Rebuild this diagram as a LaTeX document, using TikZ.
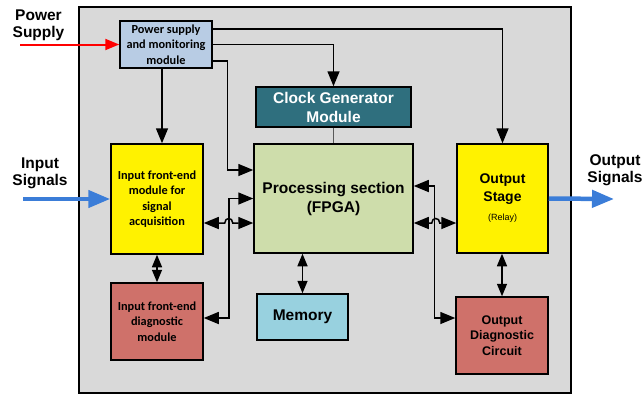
\documentclass[tikz,border=0pt]{standalone}
\usepackage{fontspec}
\setmainfont{Liberation Sans}
\newfontfamily\calfont{Carlito}
\usetikzlibrary{arrows.meta}
\definecolor{bggray}{HTML}{D9D9D9}
\definecolor{psblue}{HTML}{B8CCE4}
\definecolor{clkteal}{HTML}{2F6F7E}
\definecolor{procgreen}{HTML}{CEDDAB}
\definecolor{diagred}{HTML}{CF716A}
\definecolor{memblue}{HTML}{98D1DF}
\definecolor{sigblue}{HTML}{3B7DD8}
\tikzset{
  box/.style={draw=black, line width=1.5pt, inner sep=0pt, align=center},
  arr/.style={line width=1.5pt, -{Triangle[length=15pt,width=12pt]}},
  darr/.style={line width=1.5pt, {Triangle[length=15pt,width=12pt]}-{Triangle[length=15pt,width=12pt]}},
  sdarr/.style={line width=1.5pt, {Triangle[length=12.5pt,width=10pt]}-{Triangle[length=12.5pt,width=10pt]}},
  sigarr/.style={line width=4.5pt, draw=sigblue, -{Triangle[length=22pt,width=17pt]}},
  biglabel/.style={font=\fontsize{15.5}{17}\selectfont\bfseries, align=center, inner sep=0pt},
  bigtext/.style={font=\fontsize{15.5}{19}\selectfont\bfseries},
  caltext/.style={font=\calfont\fontsize{12.3}{15.5}\selectfont\bfseries},
}
\begin{document}
\begin{tikzpicture}[x=1pt,y=-1pt]
\useasboundingbox (0,0) rectangle (644,394);
\node[draw=black, fill=bggray, line width=1.8pt, minimum width=492pt, minimum height=386pt] (frame) at (325,200) {};

% boxes
\node[box, fill=psblue, minimum width=92pt, minimum height=47pt, caltext] (ps) at (166,44.5) {Power supply\\and monitoring\\module};
\node[box, fill=clkteal, text=white, minimum width=155pt, minimum height=40pt, bigtext] (clk) at (333.5,107) {Clock Generator\\Module};
\node[box, fill=procgreen, minimum width=159pt, minimum height=109pt, bigtext] (proc) at (333.5,198.5) {Processing section\\(FPGA)};
\node[box, fill=yellow, minimum width=92pt, minimum height=110pt, caltext] (infe) at (157,199) {Input front-end\\module for\\signal\\acquisition};
\node[box, fill=diagred, minimum width=92pt, minimum height=77pt, caltext] (indiag) at (157,321.5) {Input front-end\\diagnostic\\module};
\node[box, fill=memblue, minimum width=91pt, minimum height=46pt, font=\fontsize{15.5}{19}\selectfont\bfseries] (mem) at (302.5,317) {Memory};
\node[box, fill=yellow, minimum width=91pt, minimum height=109pt, font=\fontsize{14}{18}\selectfont\bfseries] (out) at (502.5,198.5) {Output\\Stage\\[1pt]{\fontsize{9}{10}\selectfont\mdseries (Relay)}};
\node[box, fill=diagred, minimum width=92pt, minimum height=77pt, font=\fontsize{12.5}{15.5}\selectfont\bfseries] (outdiag) at (502,335.5) {Output\\Diagnostic\\Circuit};

% outside labels
\node[biglabel] (pslabel) at (38.5,25) {Power\\Supply};
\node[biglabel] (inlabel) at (40,173) {Input\\Signals};
\node[biglabel] (outlabel) at (615,170) {Output\\Signals};
\coordinate (psin) at (20,44.5);
\coordinate (insrc) at (23,199);
\coordinate (outdst) at (614,199);

% signal arrows
\draw[line width=2pt, draw=red, -{Triangle[length=14pt,width=11pt]}, red] (psin) -- (ps.west);
\draw[sigarr] (insrc) -- (infe.west);
\draw[sigarr] (out.east) -- (outdst);

% power supply distribution
\draw[arr] ([yshift=15.5pt]ps.east) -| (out.north);
\draw[arr] (ps.east) -| (clk.north);
\draw[arr] ([yshift=-16.5pt]ps.east) -| ([xshift=-26pt,yshift=28.5pt]proc.west) -- ([yshift=28.5pt]proc.west);
\draw[arr] ([xshift=-4pt]ps.south) -- ([xshift=5pt]infe.north);

% clock to processing
\draw[line width=1.2pt, draw=black!65] (clk.south) -- (proc.north);

% input side
\draw[darr] ([yshift=-24pt]infe.east) -- ++(21,0) .. controls +(0,-6) and +(0,-6) .. ++(8,0) -- ([yshift=-24.5pt]proc.west);
\draw[darr] ([yshift=3.5pt]indiag.east) -- ++(25,0) |- (proc.west);
\draw[sdarr] (infe.south) -- (indiag.north);
\draw[sdarr] (proc.south -| mem.north) -- (mem.north);

% output side
\draw[darr] ([yshift=-24.5pt]proc.east) -- ++(18,0) .. controls +(0,-6) and +(0,-6) .. ++(8,0) -- ([yshift=-24.5pt]out.west);
\draw[darr] ([yshift=17.5pt]outdiag.west) -- ++(-21,0) |- ([yshift=12.5pt]proc.east);
\draw[sdarr] (out.south -| outdiag.north) -- (outdiag.north);
\end{tikzpicture}
\end{document}
